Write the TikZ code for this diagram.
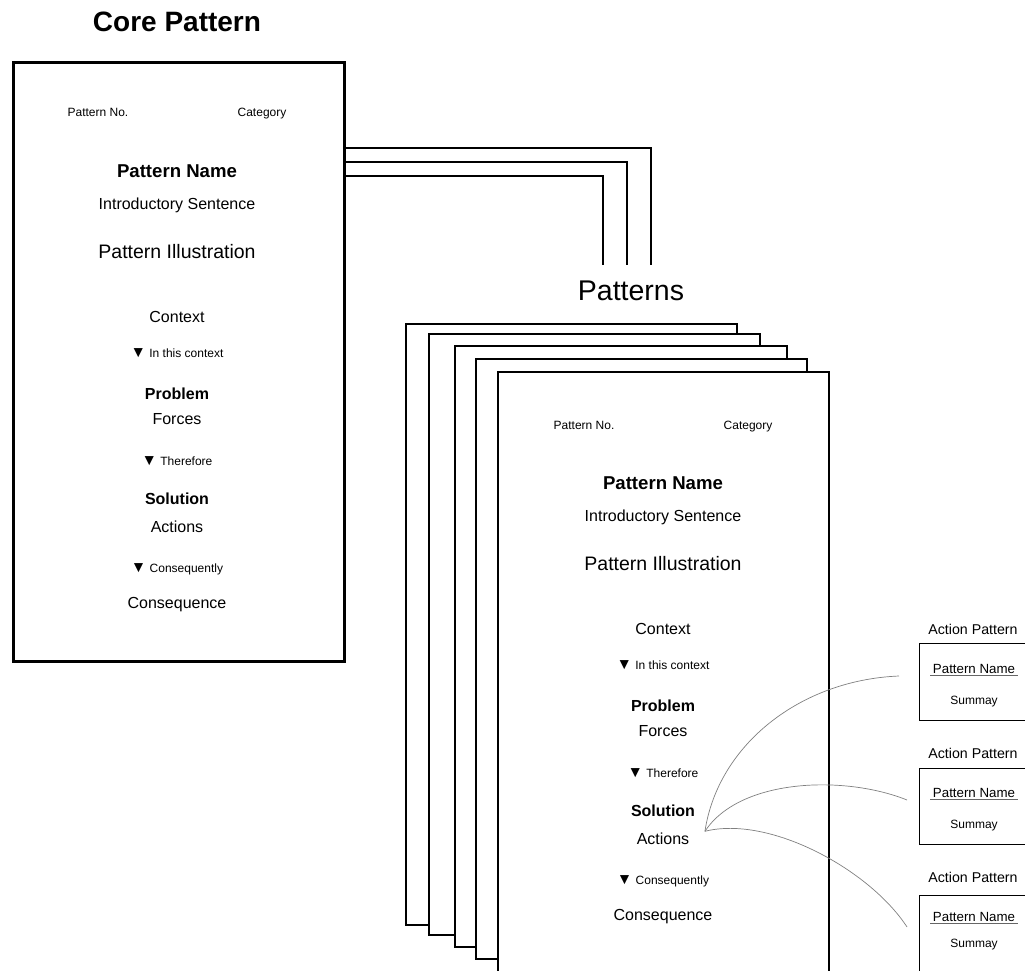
\documentclass[tikz,border=0pt]{standalone}
\usepackage{fontspec}
\usepackage{graphicx}
\setmainfont{Liberation Sans}
\usetikzlibrary{calc}

\newcommand{\pfs}[1]{\fontsize{#1}{#1}\selectfont}
\newcommand{\down}{\scalebox{1.3}{▼}}

% one pattern card: prefix, centre x, baseline of the first row
\newcommand{\patterncard}[3]{%
  \node[txt,meta] (#1-no) at (#2-79,#3) {Pattern No.};
  \node[txt,meta] (#1-cat) at (#2+85,#3) {Category};
  \node[txt,font=\pfs{18.6}\bfseries] (#1-name) at (#2,#3+60) {Pattern Name};
  \node[txt,font=\pfs{16}] (#1-intro) at (#2,#3+92) {Introductory Sentence};
  \node[txt,font=\pfs{19.5}] (#1-ill) at (#2,#3+141) {Pattern Illustration};
  \node[txt,body] (#1-ctx) at (#2,#3+205) {Context};
  \node[txt,cue] (#1-inctx) at (#2,#3+240) {\down\ In this context};
  \node[txt,body,font=\pfs{16}\bfseries] (#1-prob) at (#2,#3+282) {Problem};
  \node[txt,body] (#1-forces) at (#2,#3+307) {Forces};
  \node[txt,cue] (#1-there) at (#2,#3+348) {\down\ Therefore};
  \node[txt,body,font=\pfs{16}\bfseries] (#1-sol) at (#2,#3+387) {Solution};
  \node[txt,body] (#1-act) at (#2,#3+415) {Actions};
  \node[txt,cue] (#1-conseq) at (#2,#3+455) {\down\ Consequently};
  \node[txt,body] (#1-cons) at (#2,#3+491) {Consequence};
}

\begin{document}
\begin{tikzpicture}[x=1pt,y=-1pt,
  txt/.style={anchor=base,inner sep=2.5pt},
  meta/.style={font=\pfs{12}},
  body/.style={font=\pfs{16}},
  cue/.style={font=\pfs{12}},
  corebox/.style={draw,line width=3.2pt,minimum width=331pt,minimum height=599pt,anchor=north west},
  card/.style={draw,fill=white,line width=1.7pt},
  link/.style={line width=2.6pt},
  apbox/.style={draw,line width=1.2pt,minimum width=150pt,anchor=north west},
  wire/.style={draw=gray,line width=0.7pt}]
\useasboundingbox (0,0) rectangle (1025,971);
\clip (0,0) rectangle (1025,971);

% core pattern
\node[txt,font=\pfs{28}\bfseries] (title) at (177,32) {Core Pattern};
\node[corebox] (core) at (12,61) {};
\patterncard{core}{177}{117}

% links to the pattern stack
\foreach \dy/\x [count=\i] in {87/651,101/627,115/603} {
  \coordinate (drop\i) at (\x,265);
  \draw[link] ($(core.north east)+(0,\dy)$) -| (drop\i);
}
\node[txt,font=\pfs{28.5}] (patterns) at (631,300) {Patterns};

% stack of cards
\foreach \l/\t/\r/\b in {406/324/737/925,429/334/760/935,455/346/787/947,476/359/807/959,498/372/829/1000}
  \draw[card] (\l,\t) rectangle (\r,\b);
\patterncard{front}{663}{429}

% action patterns
\foreach \t/\h/\ty/\ny/\sy [count=\i] in {643/77/634/673/704,768/76/758/797/828,895/120/882/921/947} {
  \node[txt,font=\pfs{14.2}] (ap\i-title) at (973,\ty) {Action Pattern};
  \node[apbox,minimum height=\h pt] (ap\i) at (919,\t) {};
  \node[txt,font=\pfs{13.3}] (ap\i-name) at (974,\ny) {Pattern Name};
  \draw[gray!80!black,line width=1pt] (ap\i-name.south west) -- (ap\i-name.south east);
  \node[txt,font=\pfs{12}] (ap\i-sum) at (974,\sy) {Summay};
}

% curves from the actions
\coordinate (fork) at ($(front-act.east)+(13,-7)$);
\coordinate (tip1) at (899,676);
\coordinate (tip2) at (907,800);
\coordinate (tip3) at (907,927);
\draw[wire] (fork) .. controls (718,745) and (800,680) .. (tip1);
\draw[wire] (fork) .. controls (740,778) and (845,775) .. (tip2);
\draw[wire] (fork) .. controls (770,815) and (870,870) .. (tip3);
\end{tikzpicture}
\end{document}
